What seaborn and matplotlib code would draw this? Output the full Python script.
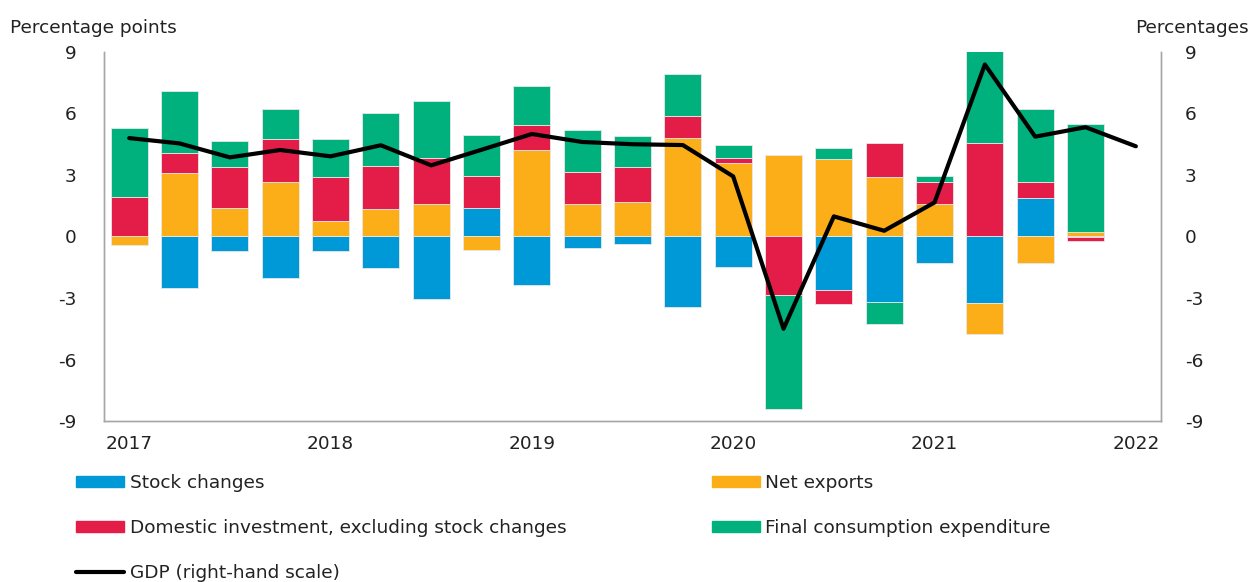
import numpy as np
import pandas as pd
import matplotlib
matplotlib.use("Agg")
import matplotlib.pyplot as plt
import seaborn as sns
from matplotlib.patches import Patch
from matplotlib.lines import Line2D

quarters = ["2017Q1", "2017Q2", "2017Q3", "2017Q4", "2018Q1", "2018Q2", "2018Q3", "2018Q4",
            "2019Q1", "2019Q2", "2019Q3", "2019Q4", "2020Q1", "2020Q2", "2020Q3", "2020Q4",
            "2021Q1", "2021Q2", "2021Q3", "2021Q4"]
gdp_quarters = quarters + ["2022Q1"]

stock_changes = [0.0, -2.49, -0.73, -2.00, -0.73, -1.56, -3.05, 1.38, -2.38, -0.55,
                 -0.37, -3.44, -1.50, 0.0, -2.62, -3.19, -1.30, -3.24, 1.87, -0.03]
net_exports = [-0.42, 3.08, 1.38, 2.64, 0.75, 1.32, 1.58, -0.68, 4.22, 1.58,
               1.69, 4.82, 3.58, 3.96, 3.76, 2.90, 1.58, -1.50, -1.30, 0.24]
domestic_investment = [1.95, 1.01, 2.02, 2.13, 2.15, 2.13, 2.25, 1.58, 1.24, 1.55,
                       1.71, 1.08, 0.25, -2.87, -0.69, 1.68, 1.06, 4.58, 0.77, -0.20]
final_consumption = [3.33, 3.00, 1.24, 1.43, 1.87, 2.58, 2.77, 1.99, 1.89, 2.08,
                     1.50, 2.02, 0.62, -5.52, 0.57, -1.06, 0.31, 4.47, 3.57, 5.26]
gdp = [4.80, 4.54, 3.86, 4.22, 3.91, 4.45, 3.47, 4.23, 5.00, 4.61,
       4.50, 4.46, 2.93, -4.50, 0.98, 0.28, 1.66, 8.39, 4.87, 5.33, 4.40]

year_labels = ["2017", "2018", "2019", "2020", "2021", "2022"]
y_ticks = [-9, -6, -3, 0, 3, 6, 9]

series_names = ["Stock changes", "Net exports",
                "Domestic investment, excluding stock changes", "Final consumption expenditure"]
series_values = [stock_changes, net_exports, domestic_investment, final_consumption]
colors = ["#0099D8", "#FBAE17", "#E31D48", "#00B07D"]

FS = 13.3

sns.set_theme(style="white")
plt.rcParams["font.family"] = ["DejaVu Sans"]

fig = plt.figure(figsize=(12.53, 5.82), dpi=100)
ax = fig.add_axes([0.083, 0.2766, 0.8436, 0.6341])

x = np.arange(len(quarters))
pos_base = np.zeros(len(quarters))
neg_base = np.zeros(len(quarters))
for name, vals, col in zip(series_names, series_values, colors):
    v = np.array(vals)
    bottoms = np.where(v >= 0, pos_base, neg_base)
    ax.bar(x, v, width=0.74, bottom=bottoms, color=col, edgecolor="#E8E8E8",
           linewidth=0.6, zorder=2)
    pos_base = pos_base + np.where(v >= 0, v, 0)
    neg_base = neg_base + np.where(v < 0, v, 0)

ax.set_xlim(-0.5, 20.5)
ax.set_ylim(-9, 9)
ax.set_yticks(y_ticks)
ax.set_yticklabels([str(t) for t in y_ticks])
year_pos = [gdp_quarters.index(y + "Q1") for y in year_labels]
ax.set_xticks(year_pos)
ax.set_xticklabels(year_labels)

ax2 = ax.twinx()
df_gdp = pd.DataFrame({"pos": np.arange(len(gdp_quarters)), "gdp": gdp})
sns.lineplot(data=df_gdp, x="pos", y="gdp", ax=ax2, color="black", linewidth=3, zorder=5)
ax2.set_ylim(-9, 9)
ax2.set_yticks(y_ticks)
ax2.set_yticklabels([str(t) for t in y_ticks])
ax2.set_xlim(-0.5, 20.5)
ax2.set_xlabel("")
ax2.set_ylabel("")

for a in (ax, ax2):
    a.spines["top"].set_visible(False)
    for s in ["left", "right", "bottom"]:
        a.spines[s].set_color("#A6A6A6")
        a.spines[s].set_linewidth(1.0)
    a.tick_params(axis="both", length=0, labelsize=FS, colors="#222222")
    a.grid(False)
ax.tick_params(axis="y", pad=20)
ax2.tick_params(axis="y", pad=17)
ax.tick_params(axis="x", pad=10)

fig.text(0.008, 0.952, "Percentage points", fontsize=FS, color="#222222", va="center")
fig.text(0.997, 0.952, "Percentages", fontsize=FS, color="#222222", va="center", ha="right")

h = [Patch(color=c) for c in colors]
gdp_h = Line2D([0], [0], color="black", linewidth=3)
common = dict(loc="upper left", frameon=False, fontsize=FS, handlelength=2.6, handleheight=0.55,
              labelspacing=1.46, handletextpad=0.3, borderaxespad=0, borderpad=0)
fig.legend([h[0], h[2], gdp_h], [series_names[0], series_names[2], "GDP (right-hand scale)"],
           bbox_to_anchor=(0.061, 0.185), **common)
fig.legend([h[1], h[3]], [series_names[1], series_names[3]],
           bbox_to_anchor=(0.568, 0.185), **common)
for leg in fig.legends:
    for t in leg.get_texts():
        t.set_color("#222222")

fig.savefig("out.png", dpi=100)
